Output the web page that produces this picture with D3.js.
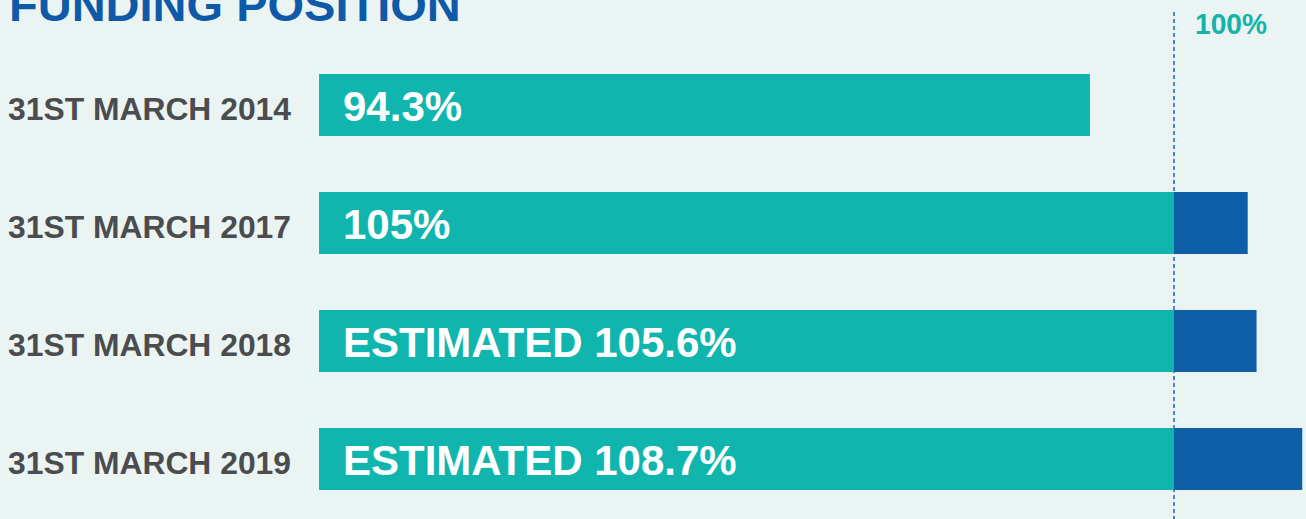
<!DOCTYPE html>
<html>
<head>
<meta charset="utf-8">
<script src="https://cdn.jsdelivr.net/npm/d3@7"></script>
<style>
  html, body { margin: 0; padding: 0; background: #eaf4f3; overflow: hidden; }
  svg { display: block; }
</style>
</head>
<body>
<svg id="chart" width="1306" height="519"></svg>
<script>
const categories = ["31ST MARCH 2014", "31ST MARCH 2017", "31ST MARCH 2018", "31ST MARCH 2019"];
const values = [94.3, 105, 105.6, 108.7];
const valueLabels = ["94.3%", "105%", "ESTIMATED 105.6%", "ESTIMATED 108.7%"];
const title = "FUNDING POSITION";
const referenceValue = 100;
const referenceLabel = "100%";

const W = 1306, H = 519;
const svg = d3.select("#chart");
svg.append("rect").attr("width", W).attr("height", H).attr("fill", "#eaf4f3");

const x = d3.scaleLinear().domain([42, referenceValue]).range([319, 1174]);
const y = d3.scaleBand().domain(categories).range([74, 490]).paddingInner(0.4746).paddingOuter(0);

const font = "'Liberation Sans', Arial, Helvetica, sans-serif";

// title
svg.append("text")
  .attr("x", 9).attr("y", 21)
  .attr("font-family", font).attr("font-weight", "bold")
  .attr("font-size", 47).attr("fill", "#0f5aa8")
  .text(title);

// reference dashed line
svg.append("line")
  .attr("x1", x(referenceValue)).attr("x2", x(referenceValue))
  .attr("y1", 12).attr("y2", H)
  .attr("stroke", "#1565c8").attr("stroke-width", 1.5)
  .attr("stroke-dasharray", "4,3");

svg.append("text")
  .attr("x", x(referenceValue) + 21).attr("y", 33.5)
  .attr("font-family", font).attr("font-weight", "bold")
  .attr("font-size", 29).attr("fill", "#12b3aa")
  .attr("textLength", 72).attr("lengthAdjust", "spacingAndGlyphs")
  .text(referenceLabel);

const rows = categories.map((c, i) => ({ cat: c, v: values[i], label: valueLabels[i] }));

const g = svg.selectAll("g.row").data(rows).join("g").attr("class", "row");

// teal portion up to 100%
g.append("rect")
  .attr("x", x.range()[0])
  .attr("y", d => y(d.cat))
  .attr("width", d => x(Math.min(d.v, referenceValue)) - x.range()[0])
  .attr("height", y.bandwidth())
  .attr("fill", "#10b5ae");

// blue portion above 100%
g.filter(d => d.v > referenceValue).append("rect")
  .attr("x", x(referenceValue))
  .attr("y", d => y(d.cat))
  .attr("width", d => x(d.v) - x(referenceValue))
  .attr("height", y.bandwidth())
  .attr("fill", "#0f5fa8");

// category labels
g.append("text")
  .attr("x", 8)
  .attr("y", d => y(d.cat) + y.bandwidth() / 2 + 15)
  .attr("font-family", font).attr("font-weight", "bold")
  .attr("font-size", 31).attr("fill", "#4b4c4e")
  .attr("textLength", 283).attr("lengthAdjust", "spacingAndGlyphs")
  .text(d => d.cat);

// value labels
g.append("text")
  .attr("x", x.range()[0] + 24)
  .attr("y", d => y(d.cat) + y.bandwidth() / 2 + 16)
  .attr("font-family", font).attr("font-weight", "bold")
  .attr("font-size", 42).attr("fill", "#ffffff")
  .text(d => d.label);
</script>
</body>
</html>
